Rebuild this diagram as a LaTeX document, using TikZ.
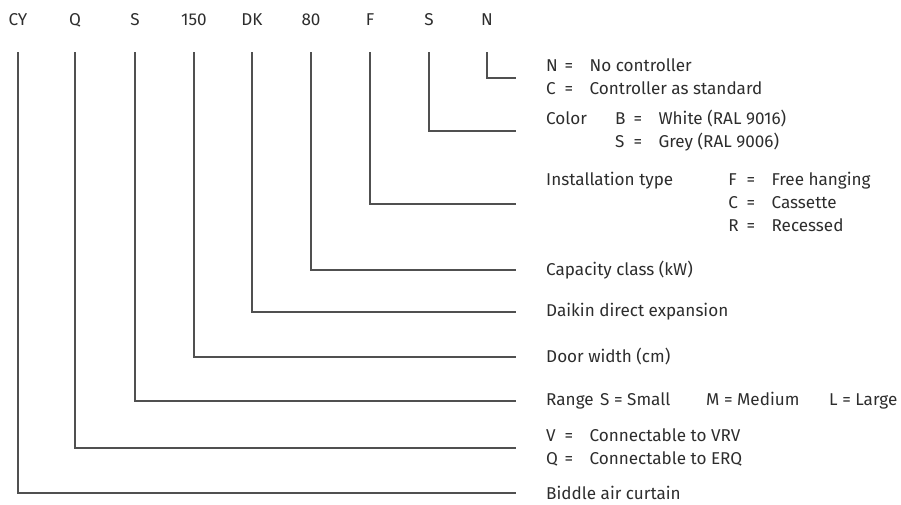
\documentclass[tikz,border=0pt]{standalone}
\usepackage{fontspec}
\setmainfont{Fira Sans}
\usetikzlibrary{calc}
\definecolor{textgray}{RGB}{45,45,45}
\definecolor{linegray}{RGB}{80,80,80}
\renewcommand{\arraystretch}{1.11}

\begin{document}
\begin{tikzpicture}[x=0.03cm,y=-0.03cm,font=\fontsize{14.6}{17.6}\selectfont,
                        lead/.style={draw=linegray,line width=0.9pt},
                        desc/.style={anchor=west,inner sep=0pt,text=textgray}]
                        \useasboundingbox (0,0) rectangle (901,504);
                        \foreach \x/\t/\n in {18/CY/cy,75/Q/q,135/S/s,194/150/wid,252/DK/dk,311/80/cap,370/F/f,429/S/col,487/N/n}
                            \node[text=textgray] (\n) at (\x,20) {\t};
                        \node[desc] (ctrl) at (546,78) {\begin{tabular}{@{}p{0.55cm}@{}p{0.75cm}@{}l@{}}
                            N & = & No controller\\ C & = & Controller as standard\end{tabular}};
                        \node[desc] (color) at (546,131) {\begin{tabular}{@{}p{2.07cm}@{}p{0.55cm}@{}p{0.75cm}@{}l@{}}
                            Color & B & = & White (RAL 9016)\\ & S & = & Grey (RAL 9006)\end{tabular}};
                        \node[desc] (install) at (546,204) {\begin{tabular}{@{}p{5.46cm}@{}p{0.55cm}@{}p{0.75cm}@{}l@{}}
                            Installation type & F & = & Free hanging\\ & C & = & Cassette\\ & R & = & Recessed\end{tabular}};
                        \node[desc] (capacity) at (546,270) {Capacity class (kW)};
                        \node[desc] (daikin) at (546,312) {Daikin direct expansion};
                        \node[desc] (door) at (546,357) {Door width (cm)};
                        \node[desc] (range) at (546,401) {\begin{tabular}{@{}p{1.62cm}@{}p{3.18cm}@{}p{3.69cm}@{}l@{}}
                            Range & S = Small & M = Medium & L = Large\end{tabular}};
                        \node[desc] (conn) at (546,448) {\begin{tabular}{@{}p{0.55cm}@{}p{0.75cm}@{}l@{}}
                            V & = & Connectable to VRV\\ Q & = & Connectable to ERQ\end{tabular}};
                        \node[desc] (biddle) at (546,493) {Biddle air curtain};
                        \foreach \a/\b in {cy/biddle,q/conn,s/range,wid/door,dk/daikin,cap/capacity,f/install,col/color,n/ctrl}
                            \draw[lead] ($(\a)+(0,32)$) |- ($(\b.west)+(-30,0)$);
                    \end{tikzpicture}
\end{document}
